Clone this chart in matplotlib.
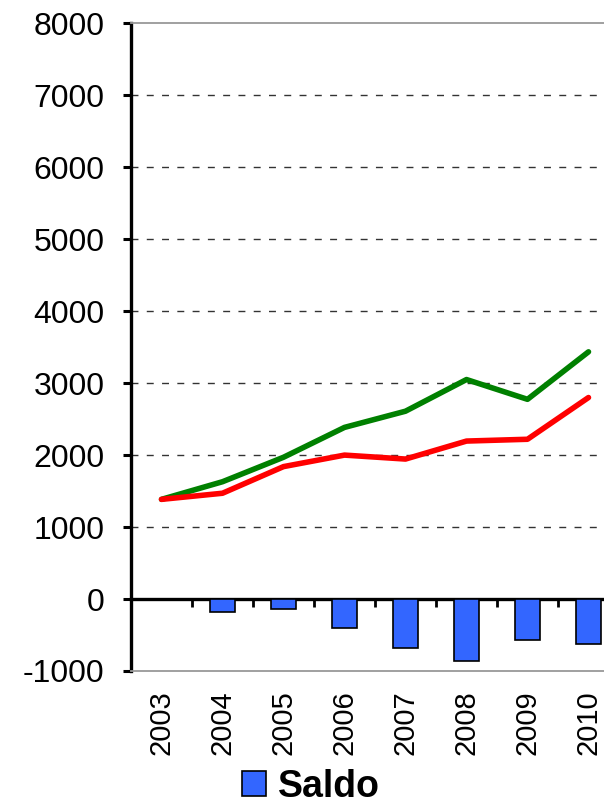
import matplotlib
matplotlib.use('Agg')
import matplotlib.pyplot as plt
import numpy as np

plt.rcParams['font.family'] = ['Liberation Sans', 'DejaVu Sans']
plt.rcParams['axes.unicode_minus'] = False

# data
years = ['2003', '2004', '2005', '2006', '2007', '2008', '2009', '2010']
green_vals = [1385, 1630, 1970, 2385, 2610, 3050, 2775, 3435]
red_vals = [1385, 1470, 1840, 2000, 1945, 2195, 2220, 2800]
saldo = [0, -180, -135, -405, -685, -855, -570, -630]

fig = plt.figure(figsize=(6.04, 8.06), dpi=100)
ax = fig.add_axes([131/604, 1 - 671/806, 488/604, (671 - 23.3)/806])

x = np.arange(len(years))
bars = ax.bar(x, saldo, width=0.4, color='#3366FF', edgecolor='black', linewidth=1.2, zorder=3, label='Saldo')
ax.plot(x, green_vals, color='#008000', lw=4, zorder=4, solid_capstyle='round')
ax.plot(x, red_vals, color='#FF0000', lw=4, zorder=4, solid_capstyle='round')

ax.set_xlim(-0.5, len(years) - 0.5)
ax.set_ylim(-1000, 8000)
ax.set_yticks(range(-1000, 8001, 1000))
ax.yaxis.grid(True, color='#333333', lw=1, linestyle=(0, (5, 6)))
ax.set_axisbelow(True)
for val, gl in zip(range(-1000, 8001, 1000), ax.get_ygridlines()):
    if val in (-1000, 0, 8000):
        gl.set_visible(False)

ax.set_xticks(x)
ax.set_xticklabels(years, rotation=90, fontsize=21)
ax.tick_params(axis='x', length=0, pad=14)
ax.tick_params(axis='y', labelsize=23, length=6, width=2.2, pad=13, direction='out')

ax.spines['left'].set_linewidth(2.4)
for s in ['top', 'bottom', 'right']:
    ax.spines[s].set_color('#999999')
    ax.spines[s].set_linewidth(1.3)

# category axis crossing at zero with ticks between categories
zero_ax = ax.secondary_xaxis(1/9)
zero_ax.set_xticks(np.arange(len(years) + 1) - 0.5)
zero_ax.set_xticklabels([])
zero_ax.tick_params(direction='out', length=6, width=2, color='black')
zero_ax.spines['bottom'].set_linewidth(2.4)
zero_ax.spines['bottom'].set_color('black')

fig.legend(handles=[bars], labels=['Saldo'], loc='center', bbox_to_anchor=(311/604, 1 - 787/806),
           frameon=False, handlelength=0.64, handleheight=0.64, handletextpad=0.32, borderpad=0,
           prop={'size': 27, 'weight': 'bold'})

fig.savefig('out.png', dpi=100)
